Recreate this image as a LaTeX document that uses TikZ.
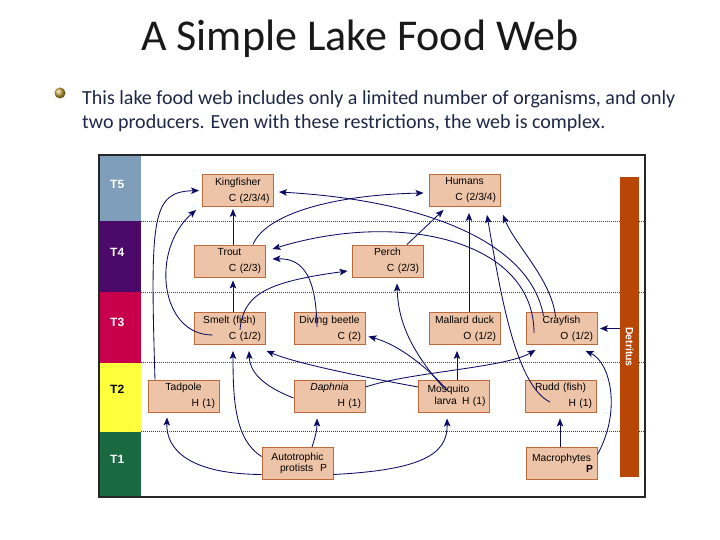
\documentclass[tikz,border=0pt]{standalone}
\usepackage{fontspec}
\setmainfont{Carlito}
\newfontfamily\arialf{Liberation Sans}
\usetikzlibrary{calc,arrows.meta}
\definecolor{arrcol}{RGB}{12,12,100}
\definecolor{boxfill}{RGB}{238,196,168}
\definecolor{boxline}{RGB}{190,105,60}
\definecolor{tfive}{RGB}{127,158,186}
\definecolor{tfour}{RGB}{75,10,105}
\definecolor{tthree}{RGB}{200,0,75}
\definecolor{ttwo}{RGB}{255,255,60}
\definecolor{tone}{RGB}{25,105,65}
\definecolor{detcol}{RGB}{185,70,5}
\definecolor{bodytext}{RGB}{30,40,70}
\definecolor{bulletcol}{RGB}{200,170,70}
\newcommand\orgtxt[2]{\makebox[63pt][c]{#1}\\#2}
\begin{document}
\begin{tikzpicture}[x=1pt,y=-1pt,
 org/.style={draw=boxline, fill=boxfill, line width=0.9pt, minimum width=71pt, minimum height=32pt, inner sep=0pt, text width=63pt, align=right, font=\arialf\fontsize{10.3}{16}\selectfont},
 orgtight/.style={org, align=left, font=\arialf\fontsize{10.3}{11.5}\selectfont},
 arr/.style={draw=arrcol, line width=0.85pt, -{Stealth[length=8pt,width=6.5pt,inset=1.8pt]}},
 tlab/.style={font=\arialf\bfseries\fontsize{12}{12}\selectfont, text=white, anchor=west, inner sep=0pt},
 sepline/.style={draw=black!75, line width=0.6pt, dash pattern=on 1.2pt off 0.8pt}
]
\useasboundingbox (0,0) rectangle (720,540);
\fill[white] (0,0) rectangle (720,540);

% title and text
\node[anchor=base, inner sep=0pt, font=\fontsize{44}{44}\selectfont, text=black!90] (title) at (360,51) {A Simple Lake Food Web};
\shade[ball color=bulletcol] (60,93) circle (5.5);
\node[anchor=base west, inner sep=0pt, font=\fontsize{20}{24}\selectfont, text=bodytext] (body1) at (82,105) {This lake food web includes only a limited number of organisms, and only};
\node[anchor=base west, inner sep=0pt, font=\fontsize{20}{24}\selectfont, text=bodytext] (body2) at (82,129) {two producers. Even with these restrictions, the web is complex.};

% bands
\fill[tfive]  (99,155)   rectangle (141,221.5);
\fill[tfour]  (99,221.5) rectangle (141,292);
\fill[tthree] (99,292)   rectangle (141,362.5);
\fill[ttwo]   (99,362.5) rectangle (141,431.5);
\fill[tone]   (99,431.5) rectangle (141,497);
\node[tlab] (l5) at (110,184) {T5};
\node[tlab] (l4) at (110,252) {T4};
\node[tlab] (l3) at (110,322) {T3};
\node[tlab, text=black] (l2) at (110,389) {T2};
\node[tlab] (l1) at (110,459) {T1};

% separators
\draw[sepline] (141,221.5) -- (645,221.5);
\draw[sepline] (141,292) -- (645,292);
\draw[sepline] (141,362.5) -- (645,362.5);
\draw[sepline] (141,431.5) -- (645,431.5);

% frame
\draw[black!85, line width=1.2pt] (99,155) rectangle (645,497);

% detritus
\node[fill=detcol, minimum width=19pt, minimum height=300pt, inner sep=0pt] (de) at (629.5,327) {};
\node[rotate=-90, text=white, inner sep=0pt, font=\arialf\bfseries\fontsize{10.5}{10.5}\selectfont] (detl) at (629.5,347) {Detritus};

% organisms
\node[org] (kf) at (238,190.5) {\orgtxt{Kingfisher}{C (2/3/4)}};
\node[org] (hu) at (464.5,190.5) {\orgtxt{Humans}{C (2/3/4)}};
\node[org] (tr) at (229.5,261) {\orgtxt{Trout}{C (2/3)}};
\node[org] (pe) at (387.5,261) {\orgtxt{Perch}{C (2/3)}};
\node[org] (sm) at (229.5,328.5) {\orgtxt{Smelt (fish)}{C (1/2)}};
\node[org] (db) at (329.5,328.5) {\orgtxt{Diving beetle}{C (2)}};
\node[org] (ma) at (464.5,328.5) {\orgtxt{Mallard duck}{O (1/2)}};
\node[org] (cr) at (561.5,328.5) {\orgtxt{Crayfish}{O (1/2)}};
\node[org] (tp) at (183.5,396) {\orgtxt{Tadpole}{H (1)}};
\node[org] (dp) at (329.5,396) {\orgtxt{\itshape Daphnia}{H (1)}};
\node[orgtight] (mo) at (454,396) {\hspace*{5pt}Mosquito\\\hspace*{12pt}larva\hfill H (1)};
\node[org] (ru) at (560.5,396) {\orgtxt{Rudd (fish)}{H (1)}};
\node[orgtight] (au) at (297.5,463.5) {\makebox[63pt][c]{Autotrophic}\\\hspace*{14pt}protists\hspace{7pt}P};
\node[orgtight, align=right] (mp) at (561.5,463.5) {\makebox[63pt][c]{Macrophytes}\\\textbf{P}};

% connectors
\draw[arr] ($(tr.north)+(3.5,0)$) -- ($(kf.south)+(-5,2)$);
\draw[arr] ($(sm.north)+(3.5,0)$) -- ($(tr.south)+(3.5,3)$);
\draw[arr] ($(tp.north)+(-28.5,0)$) .. controls (150,215) and (152,192) .. ($(kf.west)+(-3,0)$);
\draw[arr] ($(sm)+(-17,6.5)$) .. controls (160,335) and (150,250) .. ($(kf.south west)+(-6,3)$);
\draw[arr] ($(cr.north)+(-18,4)$) .. controls (530,240) and (420,200) .. ($(kf.east)+(5,1.5)$);
\draw[arr] ($(cr)+(-27.5,4.5)$) .. controls (534,240) and (400,210) .. ($(tr.east)+(7,-12)$);
\draw[arr] ($(tr.north)+(23.5,0)$) .. controls (265,215) and (330,195) .. ($(hu.west)+(-5,2.5)$);
\draw[arr] ($(pe.north)+(19.5,0)$) -- ($(hu.south)+(-21,3)$);
\draw[arr] ($(ma.north)+(4.5,0)$) -- ($(hu.south)+(4.5,6)$);
\draw[arr] ($(ru)+(-10.5,6)$) .. controls (515,385) and (500,290) .. ($(hu.south)+(22.5,8)$);
\draw[arr] ($(cr.north)+(-6,5)$) .. controls (552,280) and (515,245) .. ($(hu.south)+(38.5,8)$);
\draw[arr] ($(sm)+(10.5,1.5)$) .. controls (243,295) and (265,282) .. ($(pe.west)+(-4,10)$);
\draw[arr] ($(db)+(-12.5,-1.5)$) .. controls (316,280) and (305,258) .. ($(tr.east)+(7,-2)$);
\draw[arr] ($(mo)+(-11,-9)$) .. controls (410,350) and (398,320) .. ($(pe.south)+(9.5,6)$);
\draw[arr] ($(mo)+(-7,-6)$) .. controls (430,370) and (400,345) .. ($(db.east)+(3,8)$);
\draw[arr] ($(mo.north)+(3,0)$) -- ($(ma.south)+(-7.5,6)$);
\draw[arr] ($(mo.west)+(0,-9)$) .. controls (380,380) and (300,365) .. ($(sm.south east)+(1,6)$);
\draw[arr] ($(dp.west)+(0,2)$) .. controls (268,388) and (250,375) .. ($(sm.south)+(19.5,6)$);
\draw[arr] ($(au.west)+(0,-7)$) .. controls (235,440) and (233,400) .. ($(sm.south)+(3.5,6)$);
\draw[arr] ($(au.west)+(0,11)$) .. controls (190,474) and (166,450) .. ($(tp.south)+(-16.5,5)$);
\draw[arr] ($(au.north)+(14.5,0)$) .. controls (315,438) and (317,430) .. ($(dp.south)+(-12.5,6)$);
\draw[arr] ($(au.east)+(0,11)$) .. controls (420,470) and (448,455) .. ($(mo.south)+(-7,6)$);
\draw[arr] ($(mp.north)+(-1.5,0)$) -- ($(ru.south)+(-0.5,6)$);
\draw[arr] ($(mp.east)+(0,-9)$) .. controls (622,410) and (610,362) .. ($(cr.south)+(24,6)$);
\draw[arr] (de.west |- cr.east) -- ($(cr.east)+(2.5,0)$);
\draw[arr] ($(dp.east)+(0,-9)$) .. controls (410,372) and (505,368) .. ($(cr.south)+(-26,5)$);
\end{tikzpicture}
\end{document}
